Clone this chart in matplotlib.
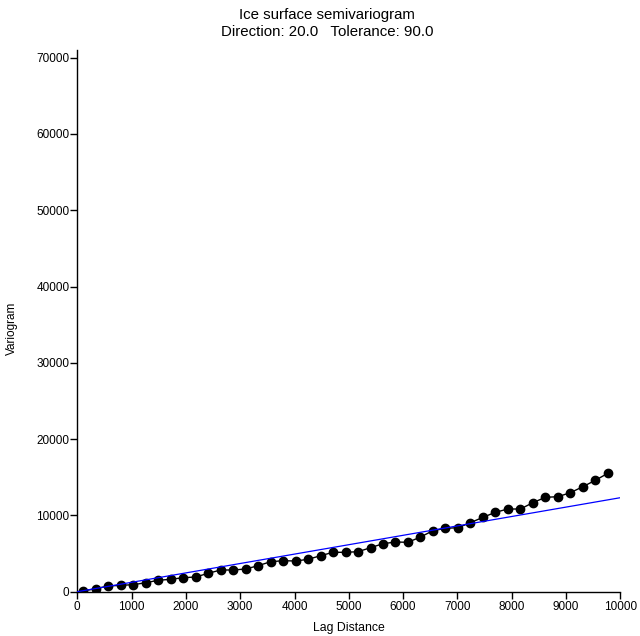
import matplotlib
matplotlib.use("Agg")
import matplotlib.pyplot as plt

plt.rcParams['font.family'] = ['Liberation Sans', 'DejaVu Sans']

# Experimental semivariogram: lag distance vs. semivariance
lag = [110, 340, 570, 800, 1030, 1260, 1490, 1720, 1950, 2180,
       2410, 2640, 2870, 3100, 3330, 3560, 3790, 4020, 4250, 4480,
       4710, 4940, 5170, 5400, 5630, 5860, 6090, 6320, 6550, 6780,
       7010, 7240, 7470, 7700, 7930, 8160, 8390, 8620, 8850, 9080,
       9310, 9540, 9770]
gamma = [92, 393, 747, 839, 917, 1180, 1494, 1625, 1835, 1927,
         2412, 2844, 2844, 2975, 3408, 3932, 4063, 4024, 4246, 4718,
         5164, 5164, 5242, 5767, 6291, 6514, 6474, 7169, 7995, 8309,
         8388, 9043, 9751, 10406, 10839, 10839, 11664, 12372, 12451, 12975,
         13761, 14600, 15518]

# Linear model fit
model_lag = [0, 10000]
model_gamma = [0, 12320]

x_ticks = [0, 1000, 2000, 3000, 4000, 5000, 6000, 7000, 8000, 9000, 10000]
y_ticks = [0, 10000, 20000, 30000, 40000, 50000, 60000, 70000]

W, H = 640, 636
fig = plt.figure(figsize=(6.4, 6.36), dpi=100)
left, right, bottom, top = 77.3 / W, 620.3 / W, 1 - 591.7 / H, 1 - 50 / H
ax = fig.add_axes([left, bottom, right - left, top - bottom])

ax.plot(lag, gamma, color='black', lw=1.0, marker='o', ms=6,
        markerfacecolor='black', markeredgecolor='black', zorder=3)
ax.plot(model_lag, model_gamma, color='blue', lw=0.9, zorder=4)

ax.set_xlim(0, 10000)
ax.set_ylim(0, 71000)
ax.set_xticks(x_ticks)
ax.set_yticks(y_ticks)
ax.set_xticklabels([str(v) for v in x_ticks])
ax.set_yticklabels([str(v) for v in y_ticks])

for side in ('top', 'right'):
    ax.spines[side].set_visible(False)
for side in ('left', 'bottom'):
    ax.spines[side].set_linewidth(1.0)
ax.tick_params(direction='out', length=4.7, width=1, labelsize=8.5)
ax.tick_params(axis='x', pad=2)
ax.tick_params(axis='y', pad=1)

ax.set_xlabel('Lag Distance', fontsize=8.8, va='baseline')
ax.xaxis.set_label_coords(0.5, -(631.5 - 591.7) / (591.7 - 50))
ax.set_ylabel('Variogram', fontsize=8.5, va='center')
ax.yaxis.set_label_coords((12 - 77.3) / (620.3 - 77.3), (591.7 - 328) / (591.7 - 50))

cx = 327 / W
fig.text(cx, 1 - 19.5 / H, 'Ice surface semivariogram',
         ha='center', va='baseline', fontsize=10.8)
fig.text(cx, 1 - 35.5 / H, 'Direction: 20.0   Tolerance: 90.0',
         ha='center', va='baseline', fontsize=10.8)

fig.savefig('out.png', dpi=100, facecolor='white')
